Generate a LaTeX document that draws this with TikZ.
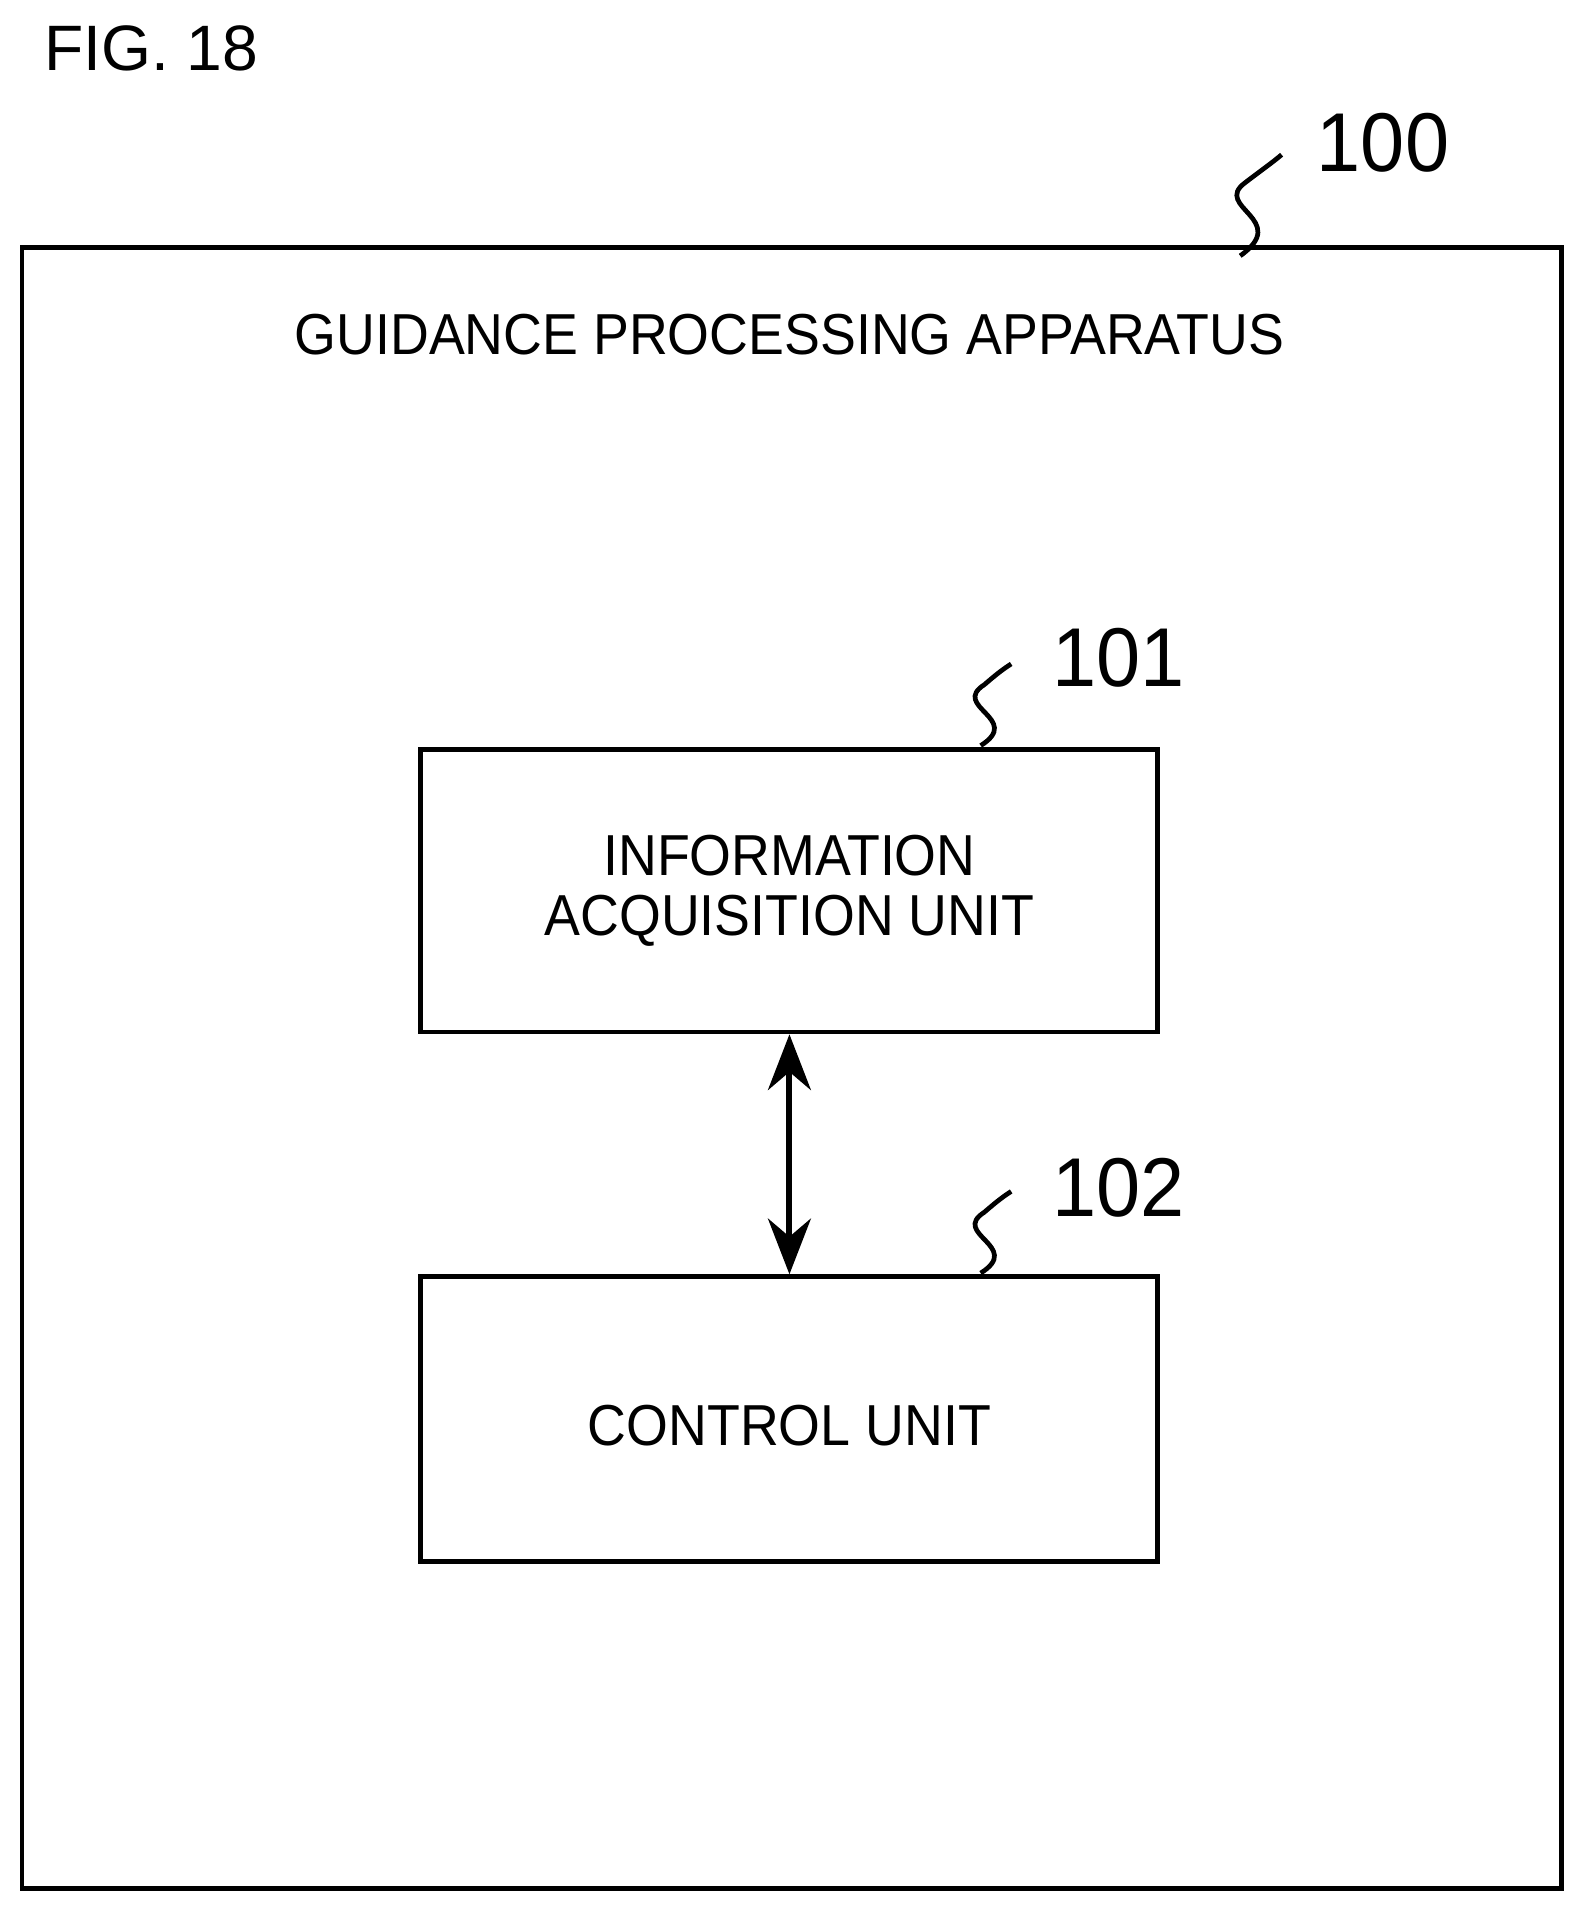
\documentclass[tikz,border=0pt]{standalone}
\usepackage{fontspec}
\setmainfont{Liberation Sans}
\usetikzlibrary{arrows.meta}
\begin{document}
\begin{tikzpicture}[x=0.02cm,y=-0.02cm,
  box/.style={draw,line width=2.2pt},
  txt/.style={font=\fontsize{27}{30}\selectfont,align=center,xscale=0.93},
  num/.style={font=\fontsize{39}{44}\selectfont,anchor=west,xscale=0.95},
  sq/.style={line width=2.2pt}]
\useasboundingbox (0,0) rectangle (1300,1567);
\node[font=\fontsize{30}{36}\selectfont,anchor=west] (fig) at (30,40) {FIG. 18};
\draw[box] (18,203) rectangle (1282,1550);
\node[txt] (title) at (648,275) {GUIDANCE PROCESSING APPARATUS};
\draw[box] (345,615) rectangle (950,847);
\node[txt] (t1) at (648,731) {INFORMATION\\[-2pt]ACQUISITION UNIT};
\draw[box] (345,1048) rectangle (950,1282);
\node[txt] (t2) at (648,1170) {CONTROL UNIT};
\coordinate (a1) at (648,849);
\coordinate (a2) at (648,1046);
\draw[line width=2.8pt,{Stealth[length=26pt,width=20pt]}-{Stealth[length=26pt,width=20pt]}] (a1) -- (a2);
\node[num] (n100) at (1075,117) {100};
\node[num] (n101) at (858,540) {101};
\node[num] (n102) at (858,975) {102};
\draw[sq] (1018,210) .. controls (1060,180) and (995,170) .. (1022,150) .. controls (1035,140) and (1045,133) .. (1052,127);
\draw[sq] (805,612) .. controls (840,590) and (780,580) .. (808,562) .. controls (815,556) and (822,550) .. (830,545);
\draw[sq] (805,1045) .. controls (840,1023) and (780,1013) .. (808,995) .. controls (815,989) and (822,983) .. (830,978);
\end{tikzpicture}
\end{document}
